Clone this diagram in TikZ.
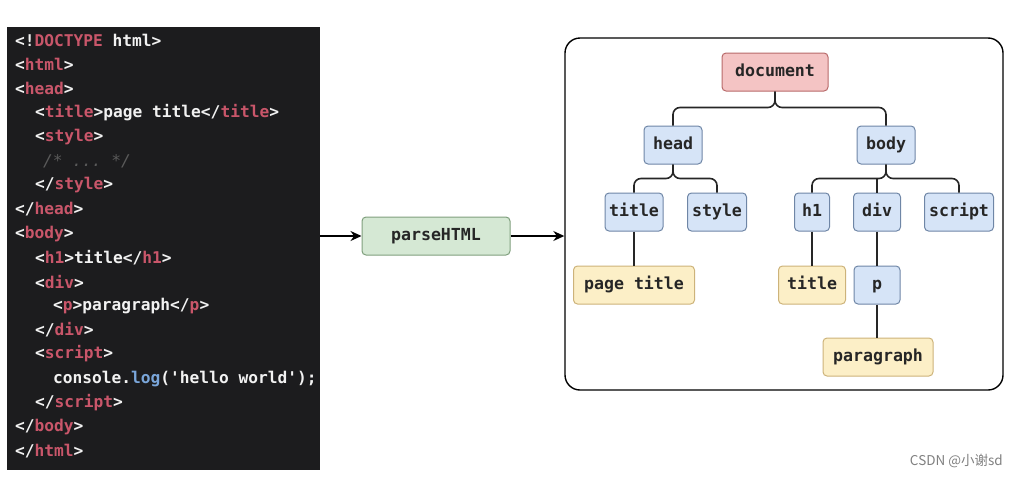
\documentclass[tikz,border=0pt]{standalone}
\usepackage{fontspec}
\setmainfont{DejaVu Sans}
\setmonofont{DejaVu Sans Mono}
\newfontfamily\cjkfont{Noto Sans CJK SC}
\usepackage{xcolor}
\usetikzlibrary{arrows.meta,positioning,calc}

\definecolor{codebg}{HTML}{1C1C1E}
\definecolor{codefg}{HTML}{F2F2F2}
\definecolor{tagred}{HTML}{C9566A}
\definecolor{cmtgray}{HTML}{5A5A5A}
\definecolor{fnblue}{HTML}{7AA6DA}
\definecolor{redfill}{HTML}{F4C4C4}
\definecolor{redline}{HTML}{B86A6A}
\definecolor{bluefill}{HTML}{D6E4F7}
\definecolor{blueline}{HTML}{6F86A6}
\definecolor{yelfill}{HTML}{FCEFC7}
\definecolor{yelline}{HTML}{CDB37A}
\definecolor{grnfill}{HTML}{D5E8D4}
\definecolor{grnline}{HTML}{7F9F7D}

\newcommand{\htag}[1]{\textcolor{tagred}{#1}}

\begin{document}
\begin{tikzpicture}[x=1pt, y=-1pt,
  code/.style={anchor=west, inner sep=0pt, text=codefg, font=\ttfamily\bfseries\fontsize{16.2}{19}\selectfont},
  box/.style={draw, rounded corners=4pt, line width=1pt, minimum height=38pt, inner sep=2pt, text height=12.5pt, text depth=3.5pt, text=black!85, font=\ttfamily\bfseries\fontsize{16.6}{19}\selectfont},
  rednode/.style={box, fill=redfill, draw=redline},
  bluenode/.style={box, fill=bluefill, draw=blueline},
  yelnode/.style={box, fill=yelfill, draw=yelline},
  grnnode/.style={box, fill=grnfill, draw=grnline},
  link/.style={draw=black!85, line width=1.6pt, rounded corners=7pt},
  flow/.style={-{Stealth[length=11pt,width=10pt]}, line width=1.4pt}]
\useasboundingbox (0,0) rectangle (1016,477);

% source code panel
\node (editor) [fill=codebg, minimum width=313pt, minimum height=443pt, inner sep=0pt] at (163.5,248.5) {};
\node[code] (c1)  at (15,40)  {<!\htag{DOCTYPE} html>};
\node[code] (c2)  at (15,64)  {<\htag{html}>};
\node[code] (c3)  at (15,88)  {<\htag{head}>};
\node[code] (c4)  at (35,113) {<\htag{title}>page title</\htag{title}>};
\node[code] (c5)  at (35,137) {<\htag{style}>};
\node[code, text=cmtgray, font=\ttfamily\itshape\fontsize{16.2}{19}\selectfont] (c6) at (43,161) {/* ... */};
\node[code] (c7)  at (35,185) {</\htag{style}>};
\node[code] (c8)  at (15,209) {</\htag{head}>};
\node[code] (c9)  at (15,234) {<\htag{body}>};
\node[code] (c10) at (35,258) {<\htag{h1}>title</\htag{h1}>};
\node[code] (c11) at (35,282) {<\htag{div}>};
\node[code] (c12) at (53,306) {<\htag{p}>paragraph</\htag{p}>};
\node[code] (c13) at (35,330) {</\htag{div}>};
\node[code] (c14) at (35,354) {<\htag{script}>};
\node[code] (c15) at (53,379) {console.\textcolor{fnblue}{log}('hello world');};
\node[code] (c16) at (35,403) {</\htag{script}>};
\node[code] (c17) at (15,427) {</\htag{body}>};
\node[code] (c18) at (15,451) {</\htag{html}>};

% parser
\node[grnnode, minimum width=148pt] (parse) at (436,236) {parseHTML};

% DOM tree frame
\node (dom) [draw, line width=1.4pt, rounded corners=15pt, minimum width=438pt, minimum height=352pt] at (784,214) {};

\node[rednode, minimum width=106pt] (document) at (775,72) {document};
\node[bluenode, minimum width=58pt] (head) at (673,145) {head};
\node[bluenode, minimum width=58pt] (body) at (886,145) {body};
\node[bluenode, minimum width=58pt] (title) at (634,212) {title};
\node[bluenode, minimum width=59pt] (style) at (717,212) {style};
\node[bluenode, minimum width=35pt] (h1) at (812,212) {h1};
\node[bluenode, minimum width=47pt] (div) at (877,212) {div};
\node[bluenode, minimum width=69pt] (script) at (959,212) {script};
\node[yelnode, minimum width=121pt] (pagetitle) at (634,285) {page title};
\node[yelnode, minimum width=67pt] (h1text) at (812,285) {title};
\node[bluenode, minimum width=46pt] (p) at (877,285) {p};
\node[yelnode, minimum width=110pt] (ptext) at (878,357) {paragraph};

% tree links
\draw[link] (document.south) -- ++(0,16) -| (head.north);
\draw[link] (document.south) -- ++(0,16) -| (body.north);
\draw[link] (head.south) -- ++(0,14) -| (title.north);
\draw[link] (head.south) -- ++(0,14) -| (style.north);
\draw[link] (body.south) -- ++(0,14) -| (h1.north);
\draw[link] (body.south) -- ++(0,14) -| (script.north);
\draw[link] (div.north) -- ++(0,-15);
\draw[link] (title.south) -- (pagetitle.north);
\draw[link] (h1.south) -- (h1text.north);
\draw[link] (div.south) -- (p.north);
\draw[link] (p.south) -- (p.south |- ptext.north);

% flow
\draw[flow] (editor.east |- parse) -- (parse.west);
\draw[flow] (parse.east) -- (parse.east -| dom.west);

\node (mark) [text=black!50, font=\cjkfont\fontsize{13.5}{15}\selectfont, anchor=east, inner sep=0pt] at (1003,461) {CSDN @小谢sd};
\end{tikzpicture}
\end{document}
